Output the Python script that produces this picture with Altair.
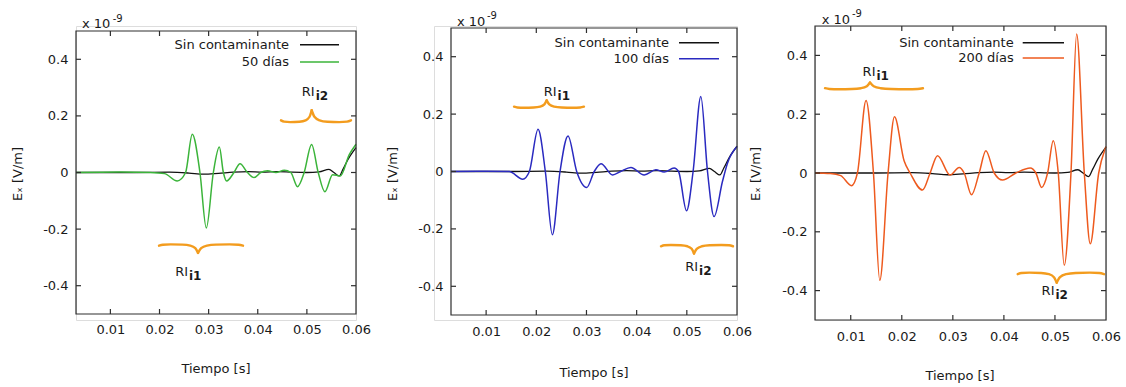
import altair as alt
import pandas as pd

FONT = "DejaVu Sans"
TEXT_COLOR = "#1a1a1a"
FRAME_COLOR = "#2e2e2e"
BRACE_COLOR = "#f39c1e"

# ---------------- data (values x 1e-9 V/m) ----------------
T_DOMAIN = [0.003, 0.06]
V_DOMAIN = [-0.5, 0.5]
X_TICKS = [0.01, 0.02, 0.03, 0.04, 0.05, 0.06]
Y_TICKS = [-0.4, -0.2, 0.0, 0.2, 0.4]

ref_name = "Sin contaminante"
ref_t = [0.003, 0.015, 0.022, 0.026, 0.029, 0.032, 0.035, 0.038, 0.041, 0.044, 0.047, 0.05,
         0.0525, 0.0545, 0.0555, 0.0566, 0.0574, 0.0584, 0.06]
ref_v = [0.0, 0.0, 0.001, -0.002, -0.006, -0.003, 0.001, 0.003, 0.001, 0.003, 0.001, 0.0,
         0.002, 0.011, 0.0, -0.012, 0.013, 0.047, 0.088]

d50_t = [0.003, 0.012, 0.018, 0.021, 0.02361, 0.02531, 0.02667, 0.02823, 0.02953, 0.03096,
         0.03218, 0.0330, 0.03367, 0.03516, 0.03639, 0.0379, 0.03925, 0.0406, 0.042, 0.0437,
         0.0454, 0.04673, 0.0481, 0.04945, 0.05096, 0.05231, 0.05367, 0.05524, 0.0568, 0.05863, 0.06]
d50_v = [0.0, 0.002, 0.0, -0.004, -0.03, 0.0, 0.135, 0.0, -0.196, 0.0,
         0.09, 0.0, -0.03, 0.0, 0.031, 0.0, -0.018, 0.0, 0.006, 0.0,
         0.008, 0.0, -0.05, 0.0, 0.099, 0.0, -0.068, -0.008, -0.012, 0.063, 0.1]

d100_t = [0.003, 0.01, 0.0146, 0.0173, 0.01862, 0.02035, 0.0218, 0.0232, 0.02473, 0.02632,
          0.02805, 0.03004, 0.03155, 0.03289, 0.03521, 0.0368, 0.03886, 0.0415, 0.04383, 0.04548,
          0.04747, 0.04835, 0.04994, 0.05125, 0.05279, 0.05412, 0.05543, 0.0571, 0.0581, 0.06]
d100_v = [0.0, 0.001, 0.0, -0.027, 0.0, 0.147, 0.0, -0.22, 0.0, 0.124,
          0.0, -0.056, 0.0, 0.027, -0.012, 0.0, 0.014, -0.012, 0.006, -0.002,
          0.012, 0.0, -0.137, 0.0, 0.261, 0.0, -0.157, -0.035, 0.029, 0.087]

d200_t = [0.003, 0.006, 0.00804, 0.01014, 0.01131, 0.013, 0.01445, 0.01569, 0.01731, 0.01857,
          0.02045, 0.02163, 0.02406, 0.02555, 0.027, 0.02947, 0.03124, 0.03222, 0.03366, 0.03516,
          0.03647, 0.0381, 0.03974, 0.04235, 0.04516, 0.04627, 0.04739, 0.04856, 0.04967, 0.05065,
          0.05182, 0.05314, 0.05425, 0.05575, 0.05692, 0.05857, 0.0598, 0.06]
d200_v = [0.0, -0.002, -0.009, -0.043, 0.0, 0.247, 0.0, -0.365, 0.0, 0.191,
          0.042, 0.0, -0.058, 0.0, 0.059, -0.007, 0.019, 0.0, -0.074, 0.0,
          0.076, 0.0, -0.024, 0.0, 0.017, 0.0, -0.049, 0.0, 0.11, 0.0,
          -0.314, 0.0, 0.473, 0.0, -0.241, 0.0, 0.081, 0.09]

series_names = ["50 días", "100 días", "200 días"]
series_t = [d50_t, d100_t, d200_t]
series_v = [d50_v, d100_v, d200_v]
series_colors = ["#3bb43a", "#2a2ac0", "#ee5a1e"]

# curly-brace annotations (RI_i1, RI_i2) per panel
brace_t0 = [[0.0199, 0.04473], [0.01556, 0.04485], [0.00496, 0.0427]]
brace_t1 = [[0.037, 0.05898], [0.0295, 0.0592], [0.02415, 0.05961]]
brace_tip = [[0.02784, 0.05098], [0.02207, 0.05143], [0.01377, 0.05034]]
brace_base = [[-0.254, 0.178], [0.222, -0.256], [0.285, -0.339]]
brace_h = [[-0.03, 0.042], [0.026, -0.03], [0.023, -0.034]]
label_t = [[0.0258, 0.05159], [0.02403, 0.05223], [0.01485, 0.04991]]
label_v = [[-0.366, 0.27], [0.263, -0.347], [0.33, -0.415]]
label_sub = [["i1", "i2"], ["i1", "i2"], ["i1", "i2"]]

# brace profile (fraction along half-brace, fraction of height)
BRACE_F = [0.0, 0.1, 0.3, 0.6, 0.8, 0.93, 1.0]
BRACE_P = [0.15, 0.04, 0.0, 0.03, 0.15, 0.45, 1.0]

# ---------------- layout (pixels) ----------------
H = 294
PANELS = [
    dict(x0=0, view_w=280, w=280, top=5, bottom=288, xlabpad=3,
         leg_tx=213, leg_x0=224, leg_x1=263, leg_y=[18.7, 36],
         exp=(6, 2, 36.7, -4), xt=(140, 343), yt=(-58, 148)),
    dict(x0=17, view_w=303, w=286, top=2, bottom=289, xlabpad=5.5,
         leg_tx=218, leg_x0=228, leg_x1=268, leg_y=[16.7, 32.7],
         exp=(6, 0, 36, -6.7), xt=(143, 347), yt=(-58, 148)),
    dict(x0=0, view_w=291, w=291, top=0, bottom=294, xlabpad=10,
         leg_tx=198.7, leg_x0=207.7, leg_x1=249, leg_y=[16.7, 32],
         exp=(6.7, -2.3, 37, -9), xt=(145, 350), yt=(-59, 148)),
]

dummy = pd.DataFrame({"k": [0]})


def brace_frame(t0, t1, tip, base, h):
    rows = []
    for f, p in zip(BRACE_F, BRACE_P):
        rows.append({"t": t0 + f * (tip - t0), "v": base + h * p, "half": "L"})
    for f, p in zip(BRACE_F, BRACE_P):
        rows.append({"t": t1 - f * (t1 - tip), "v": base + h * p, "half": "R"})
    return rows


def panel(i, anchor=False):
    c = PANELS[i]
    o = c["x0"]
    px = lambda v: alt.value(o + v)
    xs = alt.Scale(domain=T_DOMAIN, range=[o, o + c["w"]], nice=False, zero=False)
    ys = alt.Scale(domain=V_DOMAIN, range=[c["bottom"], c["top"]], nice=False, zero=False)
    xaxis = alt.Axis(values=X_TICKS, format=".2f", domain=False, ticks=False, grid=False,
                     labelPadding=c["xlabpad"], labelFont=FONT, labelFontSize=13,
                     labelColor=TEXT_COLOR, title=None, labelFlush=False, labelOverlap=False)
    yaxis = alt.Axis(values=Y_TICKS,
                     labelExpr="datum.value == 0 ? '0' : (datum.value < 0 ? '-' + format(-datum.value, '.1f') : format(datum.value, '.1f'))",
                     domain=False, ticks=False, grid=False, labelPadding=8 - o, labelFont=FONT,
                     labelFontSize=13, labelColor=TEXT_COLOR, title=None)
    X = lambda f: alt.X(f, scale=xs, axis=xaxis)
    Y = lambda f: alt.Y(f, scale=ys, axis=yaxis)

    layers = []
    if anchor:
        layers.append(alt.Chart(dummy).mark_rect(opacity=0).encode(
            x=alt.value(-75), x2=alt.value(0), y=alt.value(-25), y2=alt.value(0)))

    ref_df = pd.DataFrame({"t": ref_t, "v": ref_v})
    layers.append(alt.Chart(ref_df).mark_line(interpolate="monotone", color="#111111",
                                              strokeWidth=1.3).encode(x=X("t:Q"), y=Y("v:Q")))
    s_df = pd.DataFrame({"t": series_t[i], "v": series_v[i]})
    layers.append(alt.Chart(s_df).mark_line(interpolate="monotone", color=series_colors[i],
                                            strokeWidth=1.5).encode(x=X("t:Q"), y=Y("v:Q")))

    # braces
    rows = []
    for k in range(2):
        for r in brace_frame(brace_t0[i][k], brace_t1[i][k], brace_tip[i][k],
                             brace_base[i][k], brace_h[i][k]):
            r["id"] = f"{k}{r['half']}"
            rows.append(r)
    b_df = pd.DataFrame(rows)
    layers.append(alt.Chart(b_df).mark_line(interpolate="monotone", color=BRACE_COLOR,
                                            strokeWidth=2.4, strokeCap="round").encode(
        x=X("t:Q"), y=Y("v:Q"), detail="id:N"))

    lab_df = pd.DataFrame({"t": label_t[i], "v": label_v[i], "sub": label_sub[i],
                           "main": ["RI", "RI"]})
    layers.append(alt.Chart(lab_df).mark_text(align="right", baseline="alphabetic", fontSize=13,
                                              font=FONT, color=TEXT_COLOR).encode(
        x=X("t:Q"), y=Y("v:Q"), text="main:N"))
    layers.append(alt.Chart(lab_df).mark_text(align="left", baseline="alphabetic", fontSize=12,
                                              fontWeight="bold", dx=1, dy=4, font=FONT,
                                              color=TEXT_COLOR).encode(
        x=X("t:Q"), y=Y("v:Q"), text="sub:N"))

    # frame and inward ticks
    layers.append(alt.Chart(dummy).mark_rect(fillOpacity=0, stroke=FRAME_COLOR, strokeWidth=1.2).encode(
        x=px(0), x2=px(c["w"]), y=alt.value(c["top"]), y2=alt.value(c["bottom"])))
    xt_df = pd.DataFrame({"t": X_TICKS[:-1]})
    yt_df = pd.DataFrame({"v": Y_TICKS})
    layers.append(alt.Chart(xt_df).mark_rule(color=FRAME_COLOR, strokeWidth=1.2).encode(
        x=X("t:Q"), y=alt.value(c["bottom"]), y2=alt.value(c["bottom"] - 5)))
    layers.append(alt.Chart(xt_df).mark_rule(color=FRAME_COLOR, strokeWidth=1.2).encode(
        x=X("t:Q"), y=alt.value(c["top"]), y2=alt.value(c["top"] + 5)))
    layers.append(alt.Chart(yt_df).mark_rule(color=FRAME_COLOR, strokeWidth=1.2).encode(
        y=Y("v:Q"), x=px(0), x2=px(5)))
    layers.append(alt.Chart(yt_df).mark_rule(color=FRAME_COLOR, strokeWidth=1.2).encode(
        y=Y("v:Q"), x=px(c["w"] - 5), x2=px(c["w"])))

    # legend
    leg_names = [ref_name, series_names[i]]
    leg_colors = ["#111111", series_colors[i]]
    for j in range(2):
        layers.append(alt.Chart(dummy).mark_text(align="right", baseline="middle", fontSize=13,
                                                 font=FONT, color=TEXT_COLOR).encode(
            x=px(c["leg_tx"]), y=alt.value(c["leg_y"][j]), text=alt.value(leg_names[j])))
        layers.append(alt.Chart(dummy).mark_rule(color=leg_colors[j], strokeWidth=1.5).encode(
            x=px(c["leg_x0"]), x2=px(c["leg_x1"]), y=alt.value(c["leg_y"][j])))

    # exponent label
    ex, ey, sx, sy = c["exp"]
    layers.append(alt.Chart(dummy).mark_text(align="left", baseline="alphabetic", fontSize=13,
                                             font=FONT, color=TEXT_COLOR).encode(
        x=px(ex), y=alt.value(ey), text=alt.value("x 10")))
    layers.append(alt.Chart(dummy).mark_text(align="left", baseline="alphabetic", fontSize=10,
                                             font=FONT, color=TEXT_COLOR).encode(
        x=px(sx), y=alt.value(sy), text=alt.value("-9")))

    # axis titles
    layers.append(alt.Chart(dummy).mark_text(align="center", baseline="middle", fontSize=13,
                                             font=FONT, color=TEXT_COLOR).encode(
        x=px(c["xt"][0]), y=alt.value(c["xt"][1]), text=alt.value("Tiempo [s]")))
    layers.append(alt.Chart(dummy).mark_text(align="center", baseline="middle", fontSize=13,
                                             angle=270, font=FONT, color=TEXT_COLOR).encode(
        x=px(c["yt"][0]), y=alt.value(c["yt"][1]), text=alt.value("Eₓ [V/m]")))

    return alt.layer(*layers).properties(width=c["view_w"], height=H)


chart = alt.hconcat(panel(0, anchor=True), panel(1), panel(2), spacing=78, bounds="flush").properties(
    padding=0
).configure_view(strokeWidth=0).configure(font=FONT)

chart.save("out.html", embed_options={"renderer": "svg", "actions": False})
